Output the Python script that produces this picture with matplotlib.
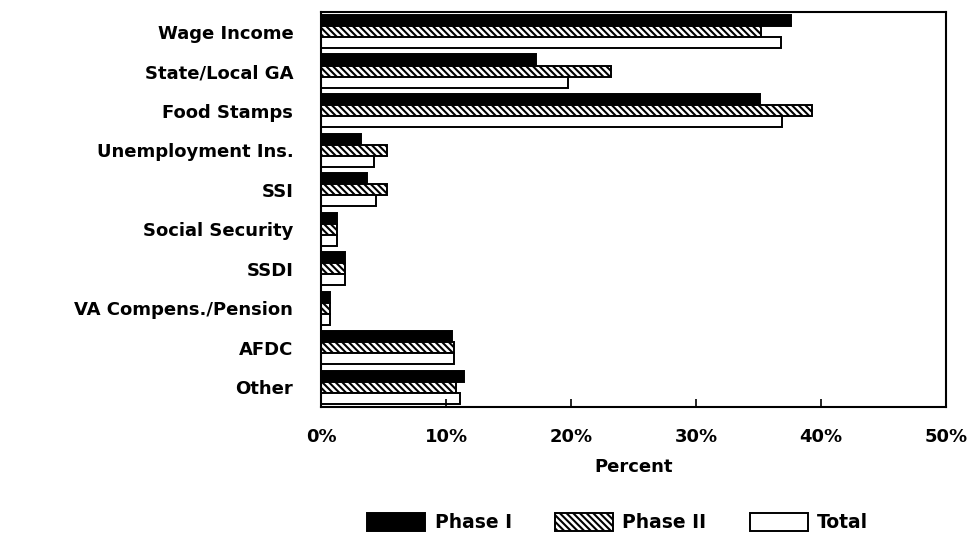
import matplotlib.pyplot as plt
import numpy as np

categories = [
    "Wage Income", "State/Local GA", "Food Stamps", "Unemployment Ins.",
    "SSI", "Social Security", "SSDI", "VA Compens./Pension", "AFDC", "Other",
]
phase1 = [37.6, 17.2, 35.1, 3.2, 3.7, 1.3, 1.9, 0.7, 10.5, 11.4]
phase2 = [35.2, 23.2, 39.3, 5.3, 5.3, 1.3, 1.9, 0.7, 10.6, 10.8]
total = [36.8, 19.8, 36.9, 4.2, 4.4, 1.3, 1.9, 0.7, 10.6, 11.1]
series_names = ["Phase I", "Phase II", "Total"]
xticks = [0, 10, 20, 30, 40, 50]
xtick_labels = ["0%", "10%", "20%", "30%", "40%", "50%"]

plt.rcParams["font.family"] = ["DejaVu Sans"]
plt.rcParams["font.weight"] = "bold"
plt.rcParams["hatch.linewidth"] = 1.5

fig = plt.figure(figsize=(9.76, 5.35), dpi=100)
ax = fig.add_axes([0.329, 0.239, 0.640, 0.739])

y = np.arange(len(categories))
h = 0.28
styles = [
    dict(color="black", edgecolor="black"),
    dict(color="white", edgecolor="black", hatch="\\\\\\\\\\"),
    dict(color="white", edgecolor="black"),
]
for i, (vals, name, st) in enumerate(zip([phase1, phase2, total], series_names, styles)):
    ax.barh(y + (i - 1) * h, vals, height=h, linewidth=1.4, label=name, **st)

ax.set_xlim(0, 50)
ax.set_ylim(len(categories) - 0.5, -0.5)
ax.set_yticks(y)
ax.set_yticklabels(categories, fontsize=13, fontweight="bold")
ax.tick_params(axis="y", length=0, pad=20)
ax.set_xticks(xticks)
ax.set_xticklabels(xtick_labels, fontsize=13, fontweight="bold")
ax.tick_params(axis="x", direction="in", length=6, width=1.2, pad=15)
for sp in ax.spines.values():
    sp.set_linewidth(1.5)

ax.set_xlabel("Percent", fontsize=13, fontweight="bold", labelpad=9)

ax.legend(
    loc="upper center", bbox_to_anchor=(0.475, -0.225), ncol=3, frameon=False,
    fontsize=13.5, handlelength=3.1, handleheight=1.1, columnspacing=2.3,
    handletextpad=0.5,
)

fig.savefig("out.png", dpi=100)
